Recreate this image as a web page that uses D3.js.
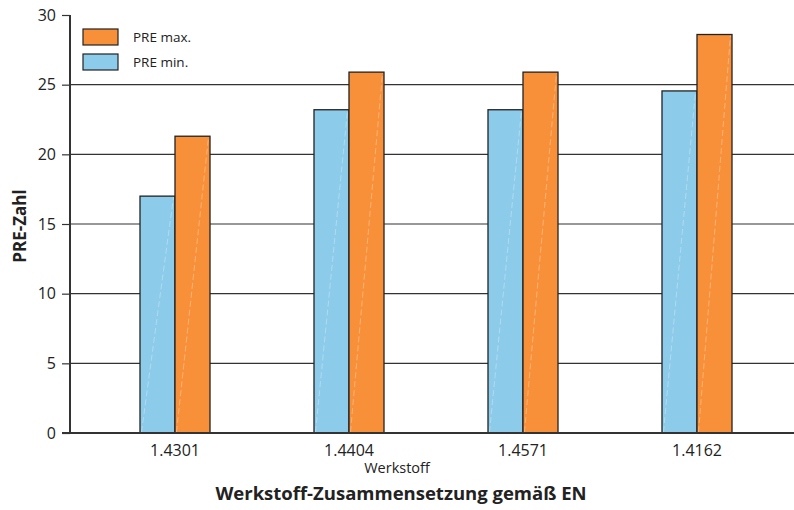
<!DOCTYPE html>
<html><head><meta charset="utf-8">
<script src="https://cdn.jsdelivr.net/npm/d3@7"></script>
<style>body{margin:0;background:#fff}svg{display:block}text{font-family:"Open Sans","Noto Sans",sans-serif;fill:#222}</style>
</head><body><svg id="c" width="794" height="510"></svg>
<script>
const categories = ["1.4301","1.4404","1.4571","1.4162"];
const preMin = [17.0, 23.2, 23.2, 24.55];
const preMax = [21.3, 25.9, 25.9, 28.6];
const yTicks = [0,5,10,15,20,25,30];
const seriesNames = ["PRE min.","PRE max."];
const colors = {"PRE min.":"#8DCBEA","PRE max.":"#F8903A"};

(function(){
const svg = d3.select("#c");
const W=794, mLeft=70, mRight=794, mTop=15, mBottom=433;
const y = d3.scaleLinear().domain([0,30]).range([mBottom,mTop]);
const x0 = d3.scaleBand().domain(categories).range([88,784]);
const x1 = d3.scaleBand().domain(seriesNames).range([-35,35]);

// gridlines
svg.append("g").selectAll("line").data(yTicks.filter(t=>t>0&&t<30)).join("line")
  .attr("x1",mLeft).attr("x2",mRight).attr("y1",d=>y(d)).attr("y2",d=>y(d))
  .attr("stroke","#333").attr("stroke-width",1.2);

// bars
const data = categories.map((c,i)=>({c, vals:[{s:"PRE min.",v:preMin[i]},{s:"PRE max.",v:preMax[i]}]}));
const g = svg.append("g").selectAll("g").data(data).join("g")
  .attr("transform",d=>`translate(${x0(d.c)+x0.bandwidth()/2},0)`);
const bars = g.selectAll("g").data(d=>d.vals).join("g");
bars.append("rect").attr("x",d=>x1(d.s)).attr("width",x1.bandwidth())
  .attr("y",d=>y(d.v)).attr("height",d=>y(0)-y(d.v))
  .attr("fill",d=>colors[d.s]).attr("stroke","#222").attr("stroke-width",1.3);
bars.append("line").attr("x1",d=>x1(d.s)+1.5).attr("y1",y(0)-1)
  .attr("x2",d=>x1(d.s)+x1.bandwidth()-1.5).attr("y2",d=>y(d.v)+1)
  .attr("stroke","#fff").attr("stroke-opacity",0.3).attr("stroke-width",1).attr("stroke-dasharray","6,3");

// y axis
const ya = svg.append("g").attr("transform",`translate(${mLeft},0)`)
  .call(d3.axisLeft(y).tickValues(yTicks).tickSize(8).tickPadding(6).tickFormat(d3.format("d")));
ya.select(".domain").remove();
ya.selectAll("line").attr("stroke","#333").attr("stroke-width",1.2);
ya.selectAll("text").style("font-size","16px").attr("fill","#222");
svg.append("line").attr("x1",mLeft).attr("x2",mLeft).attr("y1",mTop).attr("y2",mBottom)
  .attr("stroke","#333").attr("stroke-width",2);

// x axis
const xa = svg.append("g").attr("transform",`translate(0,${mBottom})`)
  .call(d3.axisBottom(x0).tickSize(0).tickPadding(12));
xa.select(".domain").remove();
xa.selectAll("text").style("font-size","16px").attr("fill","#222");
svg.append("line").attr("x1",62).attr("x2",W).attr("y1",mBottom).attr("y2",mBottom)
  .attr("stroke","#333").attr("stroke-width",2);

// axis titles
svg.append("text").attr("x",397).attr("y",473).attr("text-anchor","middle")
  .style("font-size","14.5px").text("Werkstoff");
svg.append("text").attr("x",401).attr("y",500).attr("text-anchor","middle")
  .style("font-size","18.5px").style("font-weight","bold").text("Werkstoff-Zusammensetzung gemäß EN");
svg.append("text").attr("transform","translate(26,226) rotate(-90)").attr("text-anchor","middle")
  .style("font-size","17px").style("font-weight","bold").text("PRE-Zahl");

// legend
const leg = [{s:"PRE max.",y:29},{s:"PRE min.",y:54}];
const lg = svg.append("g").selectAll("g").data(leg).join("g");
lg.append("rect").attr("x",83).attr("y",d=>d.y).attr("width",35).attr("height",16)
  .attr("fill",d=>colors[d.s]).attr("stroke","#222").attr("stroke-width",1.2);
lg.append("text").attr("x",133).attr("y",d=>d.y+13).style("font-size","13.5px").text(d=>d.s);
})();
</script></body></html>
